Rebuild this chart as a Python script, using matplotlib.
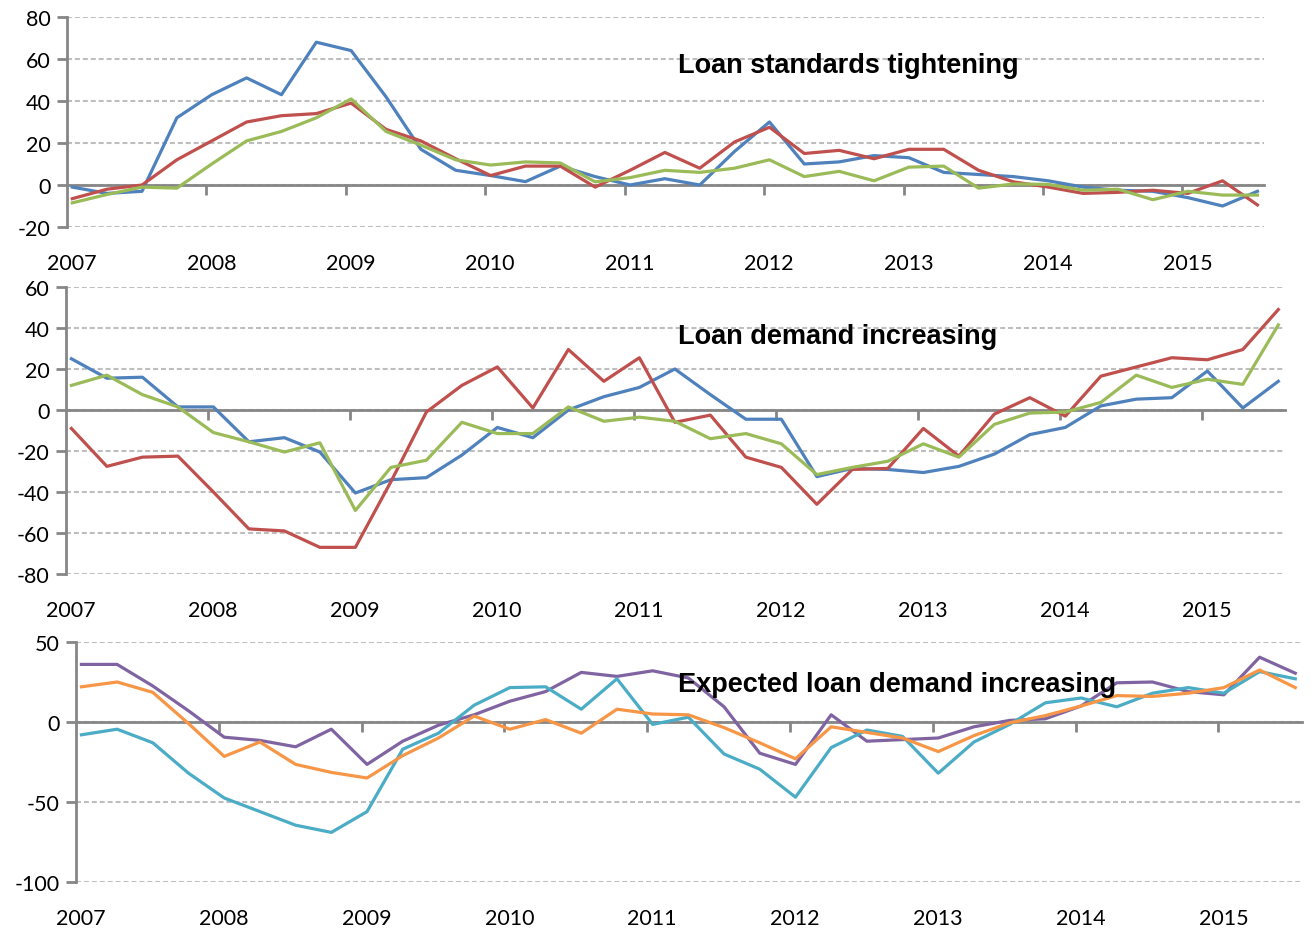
import numpy as np
import matplotlib
matplotlib.use("Agg")
import matplotlib.pyplot as plt

plt.rcParams["axes.unicode_minus"] = False

# Quarterly survey readings, 2007 Q1 .. 2015 Q3 (mid-month of each quarter start)
N_QUARTERS = 35
YEARS = list(range(2007, 2016))

# Panel 1: loan standards tightening
std_blue = [-1, -4, -3, 32, 43, 51, 43, 68, 64, 42, 17, 7, 4.5, 1.6, 9, 4, 0,
            3, 0, 16, 30, 10, 11, 14, 13, 6, 5, 4, 2, -1, -2.5, -3, -6, -10, -3]
std_red = [-6.5, -2, 0, 12, 21, 30, 33, 34, 39, 26.5, 21, 12.5, 4.5, 9, 9, -1, 7,
           15.5, 8, 20.5, 27.5, 15, 16.5, 12.5, 17, 17, 7, 1.5, -1, -4, -3.5, -2.5, -4, 2, -9.5]
std_green = [-8.5, -4.5, -1, -1.5, 10, 21, 25.5, 32, 41, 25.5, 19, 12, 9.5, 11, 10.5, 1.5, 3.5,
             7, 6, 8, 12, 4, 6.5, 2, 8.5, 9, -1.5, 0.5, 0.3, -2.5, -2, -7, -3, -4.8, -4.8]

# Panel 2: loan demand increasing
dem_blue = [25, 15.5, 16, 1.5, 1.5, -15.5, -13.5, -20.5, -40.5, -34, -33, -22, -8.5, -13.5, 0, 6.5, 11,
            20, 7.5, -4.5, -4.5, -32.5, -28.5, -29, -30.5, -27.5, -21.5, -12, -8.5, 2, 5.3, 6, 19, 1, 14]
dem_red = [-9, -27.5, -23, -22.5, -40, -58, -59, -67, -67, -35, -1, 12, 21, 1, 29.5, 14, 25.5,
           -6, -2.5, -23, -28, -46, -29, -28.5, -9, -22.5, -2, 6, -3, 16.5, 21, 25.5, 24.5, 29.5, 49]
dem_green = [12, 17, 7.5, 1.5, -11, -15.5, -20.5, -16, -49, -28, -24.5, -6, -11.5, -11.5, 1.5, -5.5, -3.5,
             -5.5, -14, -11.5, -16.5, -31.5, -28, -25, -16.5, -23, -7, -1.5, -1, 3.7, 17, 11, 15, 12.5, 41.5]

# Panel 3: expected loan demand increasing
exp_purple = [36, 36, 22.5, 7, -9.5, -11.5, -15.5, -4.5, -26.5, -12, -2, 4.5, 13, 19, 31, 28.5, 32,
              27.5, 9.5, -19.5, -26.5, 4.5, -12, -11, -10, -3, 1, 2, 10, 24.5, 25, 19, 17, 40.5, 30.5]
exp_orange = [22, 25, 18.5, -1, -21.5, -12.5, -26.5, -31.5, -35, -21, -10, 3.7, -4.5, 1.5, -7, 8, 5,
              4.5, -3.5, -13, -23, -3, -6.5, -10, -18.5, -8.5, -0.5, 4, 10, 16.5, 16, 18, 21.5, 32.5, 21.5]
exp_teal = [-8, -4.5, -13, -32, -47.5, -56, -64.5, -69, -56, -17, -7, 10.5, 21.5, 22, 8, 27, -1.5,
            3, -20, -29.5, -47, -16, -5, -9, -32, -12.5, -1.5, 12, 15, 9.5, 18, 21.5, 18, 31.5, 27]

BLUE, RED, GREEN = "#4F81BD", "#C0504D", "#9BBB59"
PURPLE, TEAL, ORANGE = "#8064A2", "#4BACC6", "#F79646"
AXIS_GRAY = "#868686"
GRID_GRAY = "#BEBEBE"

# dates: 15th of Jan/Apr/Jul/Oct as decimal years
dates = 2007 + 0.038 + 0.25 * np.arange(N_QUARTERS)

W, H = 1314, 929
fig = plt.figure(figsize=(W / 100, H / 100), dpi=100)


def px_axes(left, right, top, bottom):
    return fig.add_axes([left / W, 1 - bottom / H, (right - left) / W, (bottom - top) / H])


panels = [
    dict(box=(67, 1264, 18, 228), ylim=(-20, 80), step=20,
         series=[(std_blue, BLUE), (std_red, RED), (std_green, GREEN)],
         title="Loan standards tightening", title_xy=(678, 66)),
    dict(box=(66, 1285, 288, 575), ylim=(-80, 60), step=20,
         series=[(dem_blue, BLUE), (dem_red, RED), (dem_green, GREEN)],
         title="Loan demand increasing", title_xy=(678, 337)),
    dict(box=(76, 1302, 643, 883), ylim=(-100, 50), step=50,
         series=[(exp_purple, PURPLE), (exp_teal, TEAL), (exp_orange, ORANGE)],
         title="Expected loan demand increasing", title_xy=(678, 685)),
]

FAMILY = ["Lato", "DejaVu Sans"]

for p in panels:
    ax = px_axes(*p["box"])
    for vals, col in p["series"]:
        ax.plot(dates, vals, color=col, lw=2.3, solid_joinstyle="round", zorder=3)

    lo, hi = p["ylim"]
    ax.set_ylim(lo, hi)
    ax.set_xlim(2007, 2015.585)
    ax.set_yticks(np.arange(lo, hi + 1, p["step"]))
    ax.yaxis.grid(True, color=GRID_GRAY, lw=1.5, linestyle=(0, (2.4, 1.4)))
    ax.set_axisbelow(True)

    for s in ("top", "right"):
        ax.spines[s].set_visible(False)
    ax.spines["left"].set_color(AXIS_GRAY)
    ax.spines["left"].set_linewidth(2)
    ax.spines["bottom"].set_position(("data", 0))
    ax.spines["bottom"].set_color(AXIS_GRAY)
    ax.spines["bottom"].set_linewidth(2)
    ax.spines["bottom"].set_zorder(2)

    ax.set_xticks(YEARS[1:])
    ax.tick_params(axis="x", length=7, width=2, color=AXIS_GRAY, direction="out",
                   labelbottom=False)
    ax.tick_params(axis="y", length=7, width=2, color=AXIS_GRAY, direction="out", pad=5)
    for lab in ax.get_yticklabels():
        lab.set_family(FAMILY)
        lab.set_fontsize(15.5)

    # year labels sit below the plot area
    sec = ax.secondary_xaxis("bottom")
    sec.set_xticks(np.array(YEARS) + 0.035)
    sec.set_xticklabels([str(y) for y in YEARS])
    sec.tick_params(length=0, pad=19)
    sec.spines["bottom"].set_visible(False)
    for lab in sec.get_xticklabels():
        lab.set_family(FAMILY)
        lab.set_fontsize(15.5)

    tx, ty = p["title_xy"]
    fig.text(tx / W, 1 - ty / H, p["title"], ha="left", va="center",
             fontsize=19.5, fontweight="bold", family=["Liberation Sans", "DejaVu Sans"],
             color="black", zorder=10)

fig.savefig("out.png", dpi=100)
